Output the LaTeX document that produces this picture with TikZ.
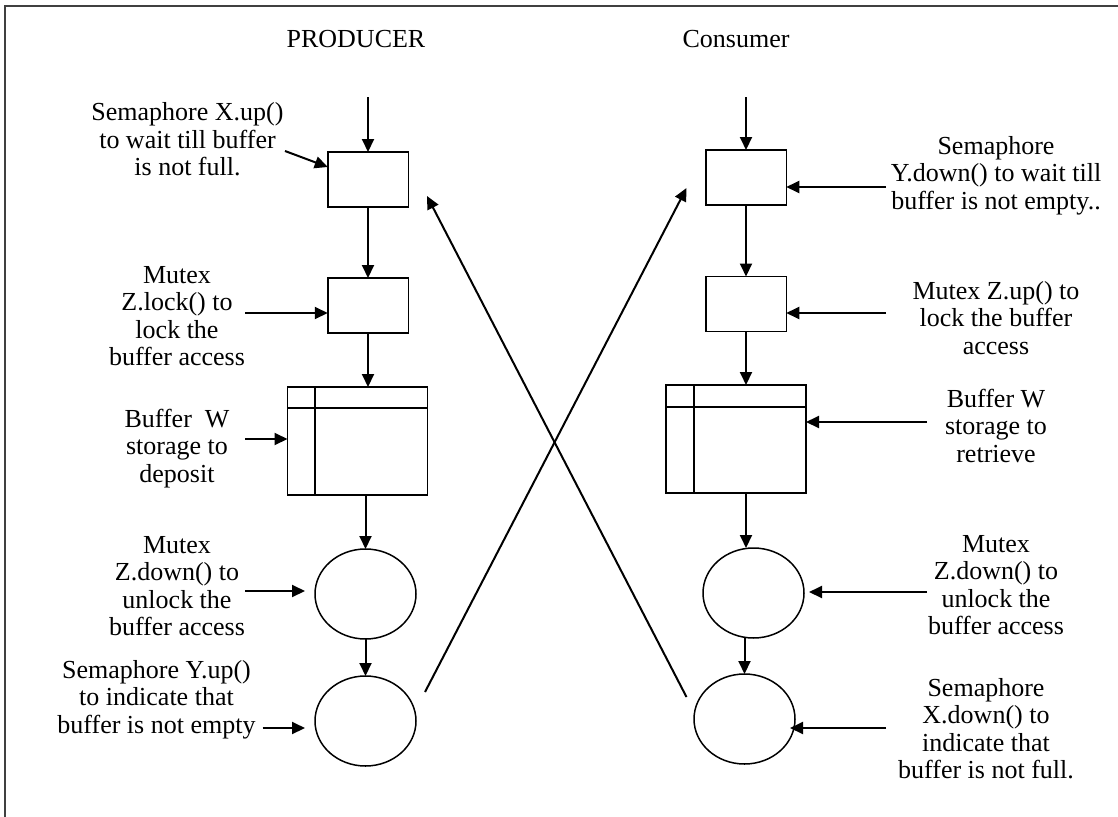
\documentclass[tikz,border=0pt]{standalone}
\usepackage{fontspec}
\setmainfont{Liberation Serif}
\usetikzlibrary{shapes.geometric,arrows.meta}
\begin{document}
\begin{tikzpicture}[x=1pt,y=-1pt,
  every node/.style={inner sep=0pt, outer sep=0pt},
  lbl/.style={align=center, anchor=base, font=\fontsize{26}{27.5}\selectfont},
  sbox/.style={draw, line width=1.5pt, minimum width=80.5pt, minimum height=55pt},
  bufbox/.style={draw, line width=1.5pt, minimum width=140pt, minimum height=108pt},
  oval/.style={draw, ellipse, line width=1.5pt, minimum width=101pt, minimum height=90pt},
  arr/.style={line width=2pt, -{Triangle[length=13pt,width=12pt]}},
  inner/.style={line width=1.5pt}]
\useasboundingbox (0,0) rectangle (1118,816);
\draw[line width=1.5pt, black!75] (5,830) -- (5,6) -- (1130,6);

% titles
\node[lbl] (tP) at (356,48) {PRODUCER};
\node[lbl] (tC) at (736,48) {Consumer};

% producer column
\node[sbox] (pb1) at (368,179.5) {};
\node[sbox] (pb2) at (368,305.5) {};
\node[bufbox] (pbuf) at (357.5,441) {};
\node[oval] (pc1) at (365.5,594) {};
\node[oval] (pc2) at (365.5,721) {};
\draw[inner] ([yshift=-21pt]pbuf.north west) -- ([yshift=-21pt]pbuf.north east);
\draw[inner] ([xshift=27.5pt]pbuf.north west) -- ([xshift=27.5pt]pbuf.south west);

% consumer column
\node[sbox] (cb1) at (746,177.5) {};
\node[sbox] (cb2) at (746,304) {};
\node[bufbox] (cbuf) at (736,439) {};
\node[oval] (cc1) at (753.5,593) {};
\node[oval] (cc2) at (744.5,719) {};
\draw[inner] ([yshift=-22pt]cbuf.north west) -- ([yshift=-22pt]cbuf.north east);
\draw[inner] ([xshift=28pt]cbuf.north west) -- ([xshift=28pt]cbuf.south west);

% vertical flow arrows
\coordinate (pin) at (368,97);
\draw[arr] (pin) -- (pb1.north);
\draw[arr] (pb1.south) -- (pb2.north);
\draw[arr] (pb2.south) -- (pb2.south |- pbuf.north);
\draw[arr] (pc1.north |- pbuf.south) -- (pc1.north);
\draw[arr] (pc1.south) -- (pc2.north);

\coordinate (cin) at (746,97);
\draw[arr] (cin) -- (cb1.north);
\draw[arr] (cb1.south) -- (cb2.north);
\draw[arr] (cb2.south) -- (cb2.south |- cbuf.north);
\draw[arr] (cb2.south |- cbuf.south) -- (cb2.south |- cc1.north);
\draw[arr] (cc2.north |- cc1.south) -- (cc2.north);

% cross lines
\coordinate (xa1) at (425,692);
\coordinate (xa2) at (686.5,188);
\draw[arr] (xa1) -- (xa2);
\coordinate (xb1) at (686.5,697);
\coordinate (xb2) at (427,196);
\draw[arr] (xb1) -- (xb2);

% producer labels (anchor base = baseline of last line)
\node[lbl] (l1) at (187.5,175.5) {Semaphore X.up()\\to wait till buffer\\is not full.};
\coordinate (l1s) at (285,151);
\draw[arr] (l1s) -- ([yshift=12.5pt]pb1.west);

\node[lbl] (l2) at (177,365.5) {Mutex\\Z.lock() to\\lock the\\buffer access};
\coordinate (l2s) at (245,313);
\draw[arr] (l2s) -- (l2s -| pb2.west);

\node[lbl] (l3) at (177,482) {Buffer\ \ W\\storage to\\deposit};
\coordinate (l3s) at (245,439);
\draw[arr] (l3s) -- (l3s -| pbuf.west);

\node[lbl] (l4) at (177,635.5) {Mutex\\Z.down() to\\unlock the\\buffer access};
\coordinate (l4s) at (245,591);
\draw[arr, shorten >=10pt] (l4s) -- (l4s -| pc1.west);

\node[lbl] (l5) at (156.5,733) {Semaphore Y.up()\\to indicate that\\buffer is not empty};
\coordinate (l5s) at (262.5,728);
\draw[arr, shorten >=10pt] (l5s) -- (l5s -| pc2.west);

% consumer labels
\node[lbl] (r1) at (996,209) {Semaphore\\Y.down() to wait till\\buffer is not empty..};
\coordinate (r1s) at (886,187);
\draw[arr] (r1s) -- (r1s -| cb1.east);

\node[lbl] (r2) at (996,354) {Mutex Z.up() to\\lock the buffer\\access};
\coordinate (r2s) at (886,313);
\draw[arr] (r2s) -- (r2s -| cb2.east);

\node[lbl] (r3) at (996,462) {Buffer W\\storage to\\retrieve};
\coordinate (r3s) at (927,422);
\draw[arr] (r3s) -- (r3s -| cbuf.east);

\node[lbl] (r4) at (996,634.5) {Mutex\\Z.down() to\\unlock the\\buffer access};
\coordinate (r4s) at (927,592);
\draw[arr, shorten >=5pt] (r4s) -- (r4s -| cc1.east);

\node[lbl] (r5) at (986,778.5) {Semaphore\\X.down() to\\indicate that\\buffer is not full.};
\coordinate (r5s) at (886,728);
\draw[arr, shorten >=-5pt] (r5s) -- (r5s -| cc2.east);
\end{tikzpicture}
\end{document}
